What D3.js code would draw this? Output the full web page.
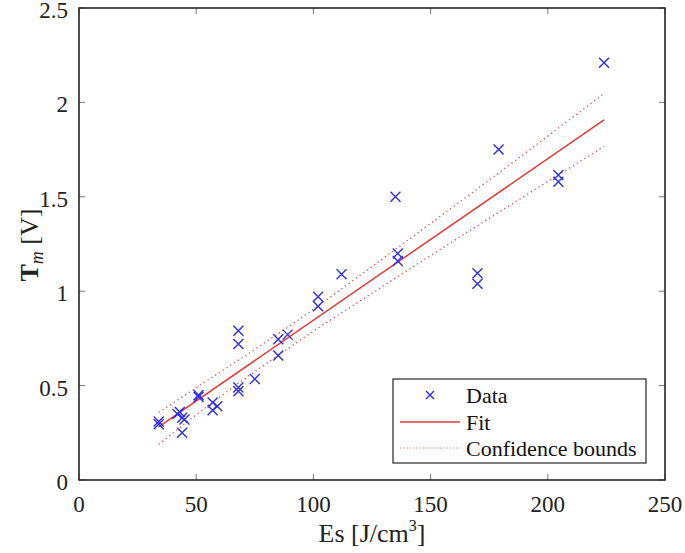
<!DOCTYPE html>
<html><head><meta charset="utf-8">
<script src="https://cdn.jsdelivr.net/npm/d3@7"></script>
<style>body{margin:0;background:#fff}svg{display:block}text{font-family:"Liberation Serif","DejaVu Serif","Times New Roman",serif}</style>
</head><body>
<svg id="c" width="685" height="553"></svg>
<script>
// Data
const dataX = [34, 34, 42, 43, 44, 45, 44, 51, 51, 57, 57, 59, 68, 68, 68, 68, 75, 85, 85, 89, 102, 102, 112, 135, 136, 136, 170, 170, 179, 204.5, 204.5, 224];
const dataY = [0.31, 0.295, 0.35, 0.36, 0.33, 0.32, 0.25, 0.45, 0.44, 0.41, 0.37, 0.39, 0.49, 0.47, 0.72, 0.79, 0.535, 0.745, 0.66, 0.77, 0.97, 0.92, 1.09, 1.50, 1.20, 1.16, 1.095, 1.04, 1.75, 1.615, 1.58, 2.21];
const fitX = [34, 224];
const fitY = [0.282, 1.907];
const boundX = [34, 60, 80, 100, 120, 150, 180, 224];
const upperY = [0.358, 0.570, 0.733, 0.904, 1.085, 1.359, 1.635, 2.047];
const lowerY = [0.188, 0.440, 0.617, 0.788, 0.949, 1.189, 1.425, 1.767];
const xTicks = [0, 50, 100, 150, 200, 250];
const yTicks = [0, 0.5, 1, 1.5, 2, 2.5];
const yTickLabels = ["0", "0.5", "1", "1.5", "2", "2.5"];
const legendLabels = ["Data", "Fit", "Confidence bounds"];

const svg = d3.select("#c");
const L = 79, R = 665, T = 8, B = 480;
const x = d3.scaleLinear().domain([0, 250]).range([L, R]);
const y = d3.scaleLinear().domain([0, 2.5]).range([B, T]);
const axisCol = "#262626";

// ticks (inward, mirrored)
const tl = 6;
xTicks.forEach(v => {
  svg.append("line").attr("x1", x(v)).attr("x2", x(v)).attr("y1", B).attr("y2", B - tl).attr("stroke", "#777").attr("stroke-width", 1);
  svg.append("line").attr("x1", x(v)).attr("x2", x(v)).attr("y1", T).attr("y2", T + tl).attr("stroke", "#777").attr("stroke-width", 1);
});
yTicks.forEach(v => {
  svg.append("line").attr("y1", y(v)).attr("y2", y(v)).attr("x1", L).attr("x2", L + tl).attr("stroke", "#777").attr("stroke-width", 1);
  svg.append("line").attr("y1", y(v)).attr("y2", y(v)).attr("x1", R).attr("x2", R - tl).attr("stroke", "#777").attr("stroke-width", 1);
});

// tick labels
svg.append("g").selectAll("text").data(xTicks).join("text")
  .attr("x", d => x(d)).attr("y", 512).attr("text-anchor", "middle")
  .style("font-size", "23px").attr("fill", "#222").text(d => d);
svg.append("g").selectAll("text").data(yTicks).join("text")
  .attr("x", 68).attr("y", d => y(d) + 10).attr("text-anchor", "end")
  .style("font-size", "23px").attr("fill", "#222").text((d, i) => yTickLabels[i]);

// confidence bounds
const bline = d3.line().x(d => x(d[0])).y(d => y(d[1])).curve(d3.curveMonotoneX);
[upperY, lowerY].forEach(arr => {
  svg.append("path").datum(boundX.map((v, i) => [v, arr[i]]))
    .attr("d", bline).attr("fill", "none").attr("stroke", "#e05050")
    .attr("stroke-width", 1.3).attr("stroke-dasharray", "1.3,3.2");
});
// fit
svg.append("path").datum(fitX.map((v, i) => [v, fitY[i]]))
  .attr("d", d3.line().x(d => x(d[0])).y(d => y(d[1])))
  .attr("fill", "none").attr("stroke", "#e03a3a").attr("stroke-width", 1.5);

// markers
const m = 5;
const g = svg.append("g").attr("stroke", "#2f2fe0").attr("stroke-width", 1.4);
dataX.forEach((v, i) => {
  const cx = x(v), cy = y(dataY[i]);
  g.append("path").attr("d", `M${cx - m},${cy - m}L${cx + m},${cy + m}M${cx - m},${cy + m}L${cx + m},${cy - m}`);
});

// axes frame
svg.append("rect").attr("x", L).attr("y", T).attr("width", R - L).attr("height", B - T)
  .attr("fill", "none").attr("stroke", axisCol).attr("stroke-width", 1.6);

// legend
const lg = svg.append("g");
lg.append("rect").attr("x", 393).attr("y", 379).attr("width", 253).attr("height", 84)
  .attr("fill", "#fff").attr("stroke", axisCol).attr("stroke-width", 1.2);
const ly = [395, 422, 448];
lg.append("path").attr("d", `M${430 - 4},${ly[0] - 4}L${430 + 4},${ly[0] + 4}M${430 - 4},${ly[0] + 4}L${430 + 4},${ly[0] - 4}`)
  .attr("stroke", "#2f2fe0").attr("stroke-width", 1.4);
lg.append("line").attr("x1", 400).attr("x2", 460).attr("y1", ly[1]).attr("y2", ly[1]).attr("stroke", "#e03a3a").attr("stroke-width", 1.5);
lg.append("line").attr("x1", 400).attr("x2", 460).attr("y1", ly[2]).attr("y2", ly[2]).attr("stroke", "#e58080").attr("stroke-width", 1).attr("stroke-dasharray", "1.3,2");
lg.selectAll("text.l").data(legendLabels).join("text")
  .attr("x", 466).attr("y", (d, i) => ly[i] + 8)
  .style("font-size", "22px").attr("fill", "#111").text(d => d);

// x label
const xl = svg.append("text").attr("x", 372).attr("y", 542).attr("text-anchor", "middle")
  .style("font-size", "26px").attr("fill", "#222");
xl.append("tspan").text("Es [J/cm");
xl.append("tspan").style("font-size", "16px").attr("dy", -11).text("3");
xl.append("tspan").attr("dy", 11).text("]");

// y label
const yl = svg.append("text").attr("transform", "translate(38,245) rotate(-90)").attr("text-anchor", "middle")
  .style("font-size", "26px").attr("fill", "#222");
yl.append("tspan").style("font-weight", "bold").text("T");
yl.append("tspan").style("font-style", "italic").style("font-size", "18px").attr("dy", 5).text("m");
yl.append("tspan").attr("dy", -5).text(" [V]");
</script>
</body></html>
